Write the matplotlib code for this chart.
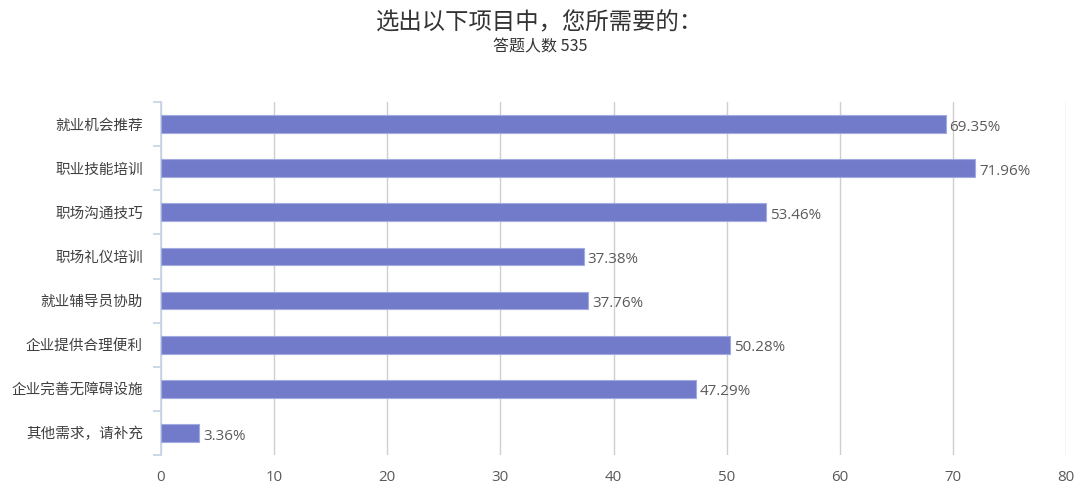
import matplotlib
matplotlib.use("Agg")
import matplotlib.pyplot as plt
import numpy as np

plt.rcParams['font.family'] = ['Noto Sans CJK SC', 'DejaVu Sans']

categories = ["就业机会推荐", "职业技能培训", "职场沟通技巧", "职场礼仪培训",
              "就业辅导员协助", "企业提供合理便利", "企业完善无障碍设施", "其他需求，请补充"]
values = [69.35, 71.96, 53.46, 37.38, 37.76, 50.28, 47.29, 3.36]
xticks = [0, 10, 20, 30, 40, 50, 60, 70, 80]
title = "选出以下项目中，您所需要的："
subtitle = "答题人数 535"

fig = plt.figure(figsize=(10.8, 5.01), dpi=100)
ax = fig.add_axes([161/1080, 1-455/501, (1066-161)/1080, (455-102)/501])

n = len(categories)
ypos = np.arange(n)
ax.barh(ypos, values, height=0.4, color="#717bc9", edgecolor="#a3aae0",
        linewidth=0.8, zorder=3)
ax.set_ylim(n - 0.5, -0.5)
ax.set_xlim(0, 80)
ax.set_xticks(xticks)
ax.set_xticklabels([str(t) for t in xticks], color="#595959", fontsize=10.8,
                   family='Open Sans')
ax.tick_params(axis='x', length=0, pad=11)
ax.grid(axis='x', color="#cfcfcf", linewidth=1, zorder=0)

ax.set_yticks(ypos)
ax.set_yticklabels(categories, color="#404040", fontsize=10.5)
ax.tick_params(axis='y', which='major', length=0, pad=13)
ax.set_yticks(np.arange(-0.5, n + 0.5, 1), minor=True)
ax.tick_params(axis='y', which='minor', length=6, color="#c5d2e6", width=1.2)

for s in ['top', 'right', 'bottom']:
    ax.spines[s].set_visible(False)
ax.spines['left'].set_color("#c5d2e6")
ax.spines['left'].set_linewidth(1.2)

for y, v in zip(ypos, values):
    ax.text(v + 0.35, y + 0.07, f"{v:.2f}%", va='center', ha='left',
            color="#5a5a5a", fontsize=10.9, family='Open Sans')

fig.text(0.5, 1 - 23/501, title, ha='center', va='center', fontsize=16.8, color="#333333")
fig.text(0.5, 1 - 47/501, subtitle, ha='center', va='center', fontsize=11.5, color="#333333")

fig.savefig("out.png", dpi=100)
